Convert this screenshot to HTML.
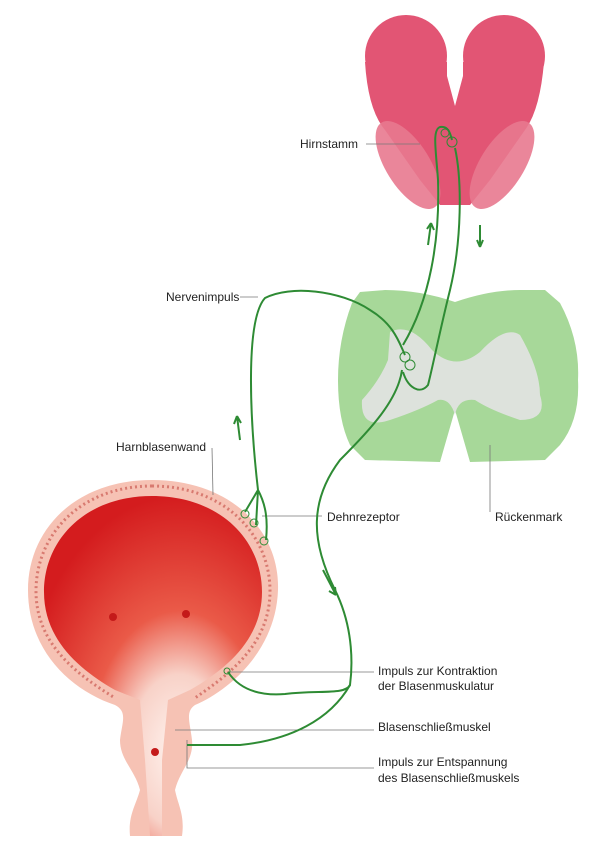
<!DOCTYPE html>
<html><head><meta charset="utf-8"><style>
html,body{margin:0;padding:0;background:#fff}
svg{display:block}
text{font-family:"Liberation Sans",sans-serif;font-size:12px;fill:#222}
</style></head><body>
<svg width="600" height="844" viewBox="0 0 600 844" xmlns="http://www.w3.org/2000/svg">
<defs>
<radialGradient id="cav" cx="0.62" cy="0.75" r="0.75">
<stop offset="0" stop-color="#fff4f0"/><stop offset="0.3" stop-color="#f8d2c8"/><stop offset="0.55" stop-color="#ea5a48"/><stop offset="1" stop-color="#d41c1e"/>
</radialGradient>
</defs>
<!-- brainstem -->
<g fill="#e25574">
<circle cx="406" cy="56" r="41"/><circle cx="504" cy="56" r="41"/>
<path d="M365 62 L544 62 Q540 110 525 130 L490 180 L470 205 L440 205 L420 180 L385 130 Q368 110 365 62 Z"/>
</g>
<path d="M447 0 L463 0 L463 76 L455 106 L447 76 Z" fill="#fff"/>
<ellipse cx="408" cy="165" rx="22" ry="50" transform="rotate(-32 408 165)" fill="#e8798f" opacity="0.9"/>
<ellipse cx="502" cy="165" rx="22" ry="50" transform="rotate(32 502 165)" fill="#e8798f" opacity="0.9"/>
<!-- spinal cord -->
<path d="M360 292 L385 290 Q420 290 455 302 Q490 290 520 290 L545 290 L560 303 Q580 340 578 380 Q580 420 560 445 L545 460 L470 462 L455 410 L440 462 L365 460 L350 445 Q338 420 338 380 Q338 340 352 303 Z" fill="#a7d899"/>
<path d="M390 332 Q410 322 432 350 Q455 372 480 352 Q505 325 520 335 Q540 370 540 395 Q548 420 520 420 Q490 410 475 400 Q458 398 455 415 Q450 398 438 400 Q420 410 390 420 Q360 430 362 400 Q380 380 388 360 Z" fill="#dde2dc"/>
<!-- bladder -->
<path d="M152 480 C230 480 280 530 278 590 C276 650 230 690 195 705 C185 712 190 722 192 740 C194 760 180 770 175 790 C178 805 185 815 182 836 L130 836 C128 815 136 805 140 790 C135 770 120 760 120 740 C122 722 128 712 115 705 C70 690 28 650 28 590 C28 530 75 480 152 480 Z" fill="#f6c2b4"/>
<path d="M152 496 C220 496 262 540 262 592 C262 640 225 670 190 690 L168 700 L162 760 L162 836 L150 836 L145 760 L140 700 L115 690 C80 670 44 640 44 592 C44 540 85 496 152 496 Z" fill="url(#cav)"/>
<circle cx="113" cy="617" r="4" fill="#c41a1a"/><circle cx="186" cy="614" r="4" fill="#c41a1a"/><circle cx="155" cy="752" r="4" fill="#c41a1a"/>
<path d="M152 486 C225 486 270 535 270 591 C270 645 228 675 195 698 M152 486 C80 486 36 535 36 591 C36 645 78 675 115 698" fill="none" stroke="#d87a70" stroke-width="3" stroke-dasharray="2 3"/>
<!-- gray label lines -->
<g stroke="#777" stroke-width="0.8" fill="none">
<line x1="366" y1="144" x2="420" y2="144"/>
<polyline points="240,297 258,297"/>
<polyline points="212,448 213,495"/>
<line x1="262" y1="516" x2="322" y2="516"/>
<line x1="490" y1="445" x2="490" y2="512"/>
<line x1="228" y1="672" x2="374" y2="672"/>
<line x1="175" y1="730" x2="374" y2="730"/>
<polyline points="187,740 187,768 374,768"/>
</g>
<!-- nerves -->
<g stroke="#2e8b34" stroke-width="2" fill="none">
<path d="M258 490 C250 420 245 320 265 298 C290 285 340 290 370 310 C395 325 400 345 405 355"/>
<path d="M258 490 L245 512 M258 490 L256 525 M258 490 C266 505 268 520 266 540"/>
<path d="M403 345 C430 300 440 240 438 180 C436 150 432 130 440 127 C448 126 450 132 452 140"/>
<path d="M455 148 C462 180 462 240 450 290 C440 330 432 370 428 385 C420 395 408 388 403 372"/>
<path d="M402 370 C398 400 370 430 340 460 C310 500 310 540 335 590 C355 630 352 670 350 685 C345 695 320 690 285 694 C260 696 240 690 228 672"/>
<path d="M350 685 C330 720 290 740 240 745 L187 745"/>
<path d="M240 440 L237 416 M237 416 l-3 8 M237 416 l4 7"/>
<path d="M428 245 L431 223 M431 223 l-4 6 M431 223 l3 7"/>
<path d="M480 225 L480 247 M480 247 l-3 -7 M480 247 l3 -7"/>
<path d="M323 570 L336 595 M336 595 l-1 -8 M336 595 l-7 -4"/>
</g>
<g fill="none" stroke="#2e8b34" stroke-width="1">
<circle cx="405" cy="357" r="5"/><circle cx="410" cy="365" r="5"/><circle cx="452" cy="142" r="5"/><circle cx="445" cy="133" r="4"/>
<circle cx="245" cy="514" r="4"/><circle cx="254" cy="523" r="4"/><circle cx="264" cy="541" r="4"/><circle cx="227" cy="671" r="3"/>
</g>
<!-- labels -->
<text x="300" y="148">Hirnstamm</text>
<text x="166" y="301">Nervenimpuls</text>
<text x="116" y="451">Harnblasenwand</text>
<text x="327" y="521">Dehnrezeptor</text>
<text x="495" y="521">Rückenmark</text>
<text x="378" y="675">Impuls zur Kontraktion</text>
<text x="378" y="690">der Blasenmuskulatur</text>
<text x="378" y="731">Blasenschließmuskel</text>
<text x="378" y="766">Impuls zur Entspannung</text>
<text x="378" y="782">des Blasenschließmuskels</text>
</svg>
</body></html>
